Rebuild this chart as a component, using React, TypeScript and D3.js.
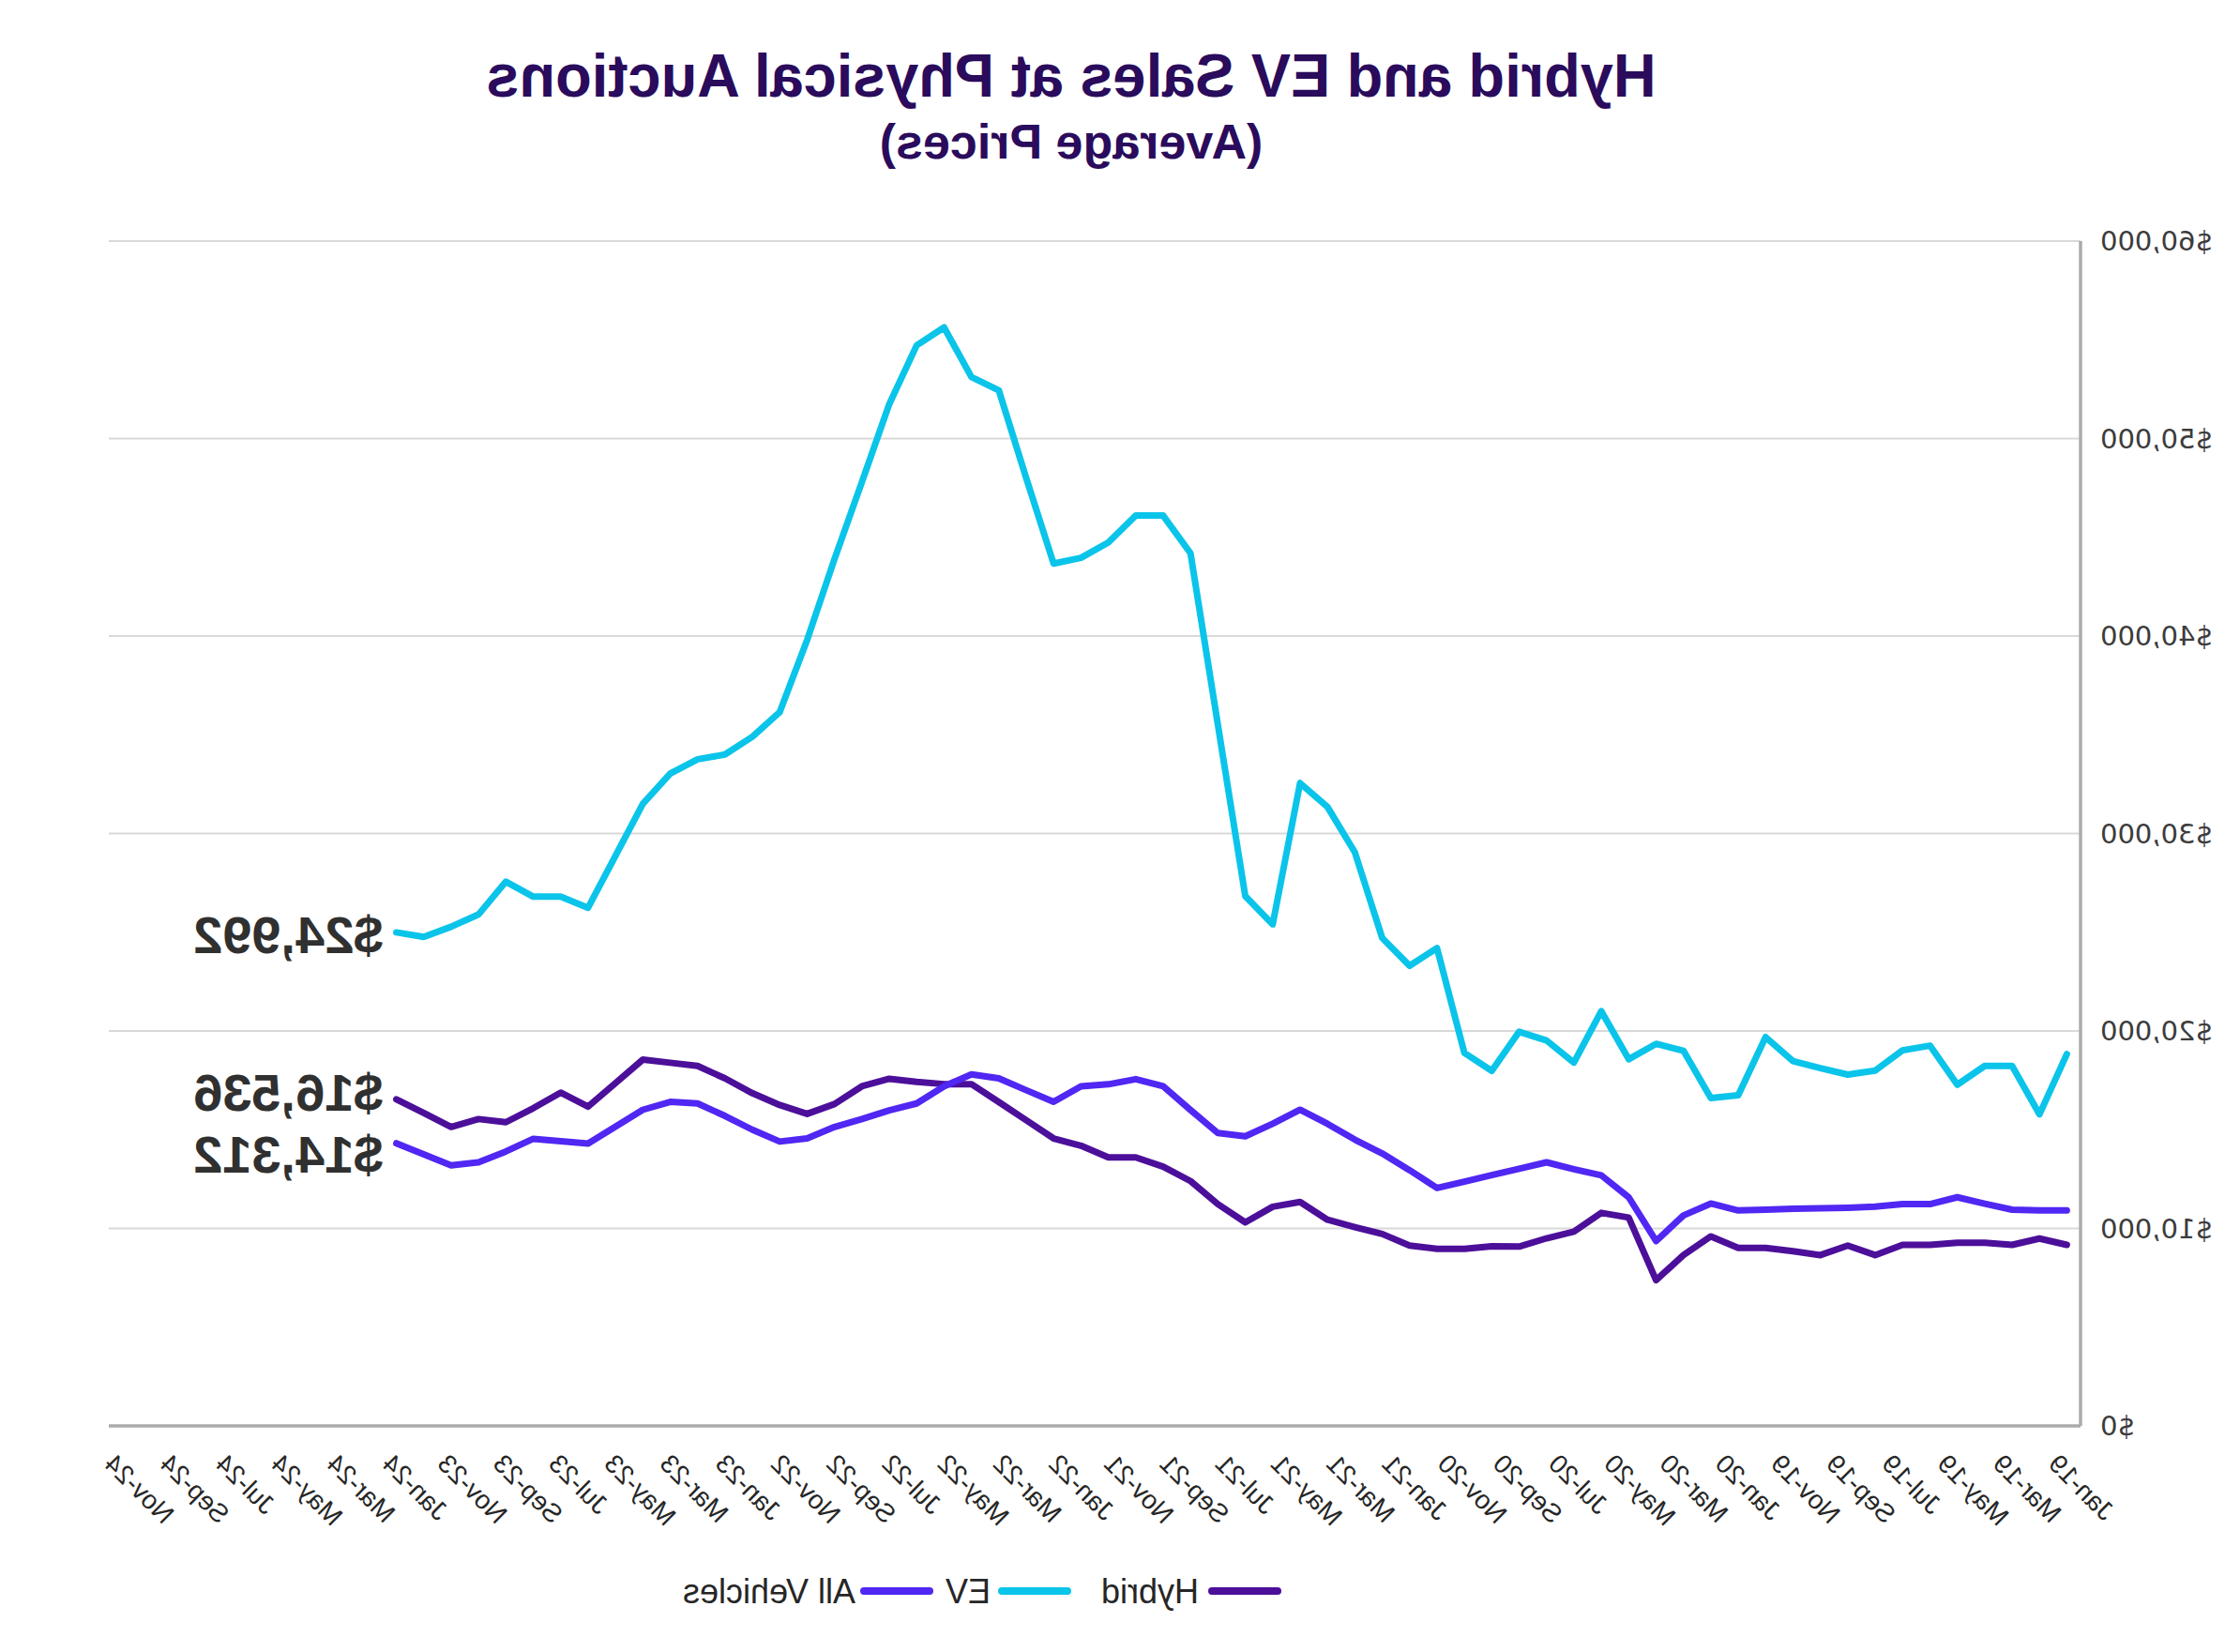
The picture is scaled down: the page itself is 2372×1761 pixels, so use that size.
import React from 'react';
import * as d3 from 'd3';

// Monthly category grid used by the plotted series
const MONTHS = [
  'Jan-19','Feb-19','Mar-19','Apr-19','May-19','Jun-19','Jul-19','Aug-19','Sep-19','Oct-19','Nov-19','Dec-19',
  'Jan-20','Feb-20','Mar-20','Apr-20','May-20','Jun-20','Jul-20','Aug-20','Sep-20','Oct-20','Nov-20','Dec-20',
  'Jan-21','Feb-21','Mar-21','Apr-21','May-21','Jun-21','Jul-21','Aug-21','Sep-21','Oct-21','Nov-21','Dec-21',
  'Jan-22','Feb-22','Mar-22','Apr-22','May-22','Jun-22','Jul-22','Aug-22','Sep-22','Oct-22','Nov-22','Dec-22',
  'Jan-23','Feb-23','Mar-23','Apr-23','May-23','Jun-23','Jul-23','Aug-23','Sep-23','Oct-23','Nov-23','Dec-23',
  'Jan-24','Feb-24','Mar-24','Apr-24','May-24','Jun-24','Jul-24','Aug-24','Sep-24','Oct-24','Nov-24','Dec-24'
];

// Category axis shown under the plot (Jan-19 .. Nov-24)
const AXIS_MONTHS = MONTHS.slice(0, 71);

const TICK_LABELS = [
  'Jan-19','Mar-19','May-19','Jul-19','Sep-19','Nov-19',
  'Jan-20','Mar-20','May-20','Jul-20','Sep-20','Nov-20',
  'Jan-21','Mar-21','May-21','Jul-21','Sep-21','Nov-21',
  'Jan-22','Mar-22','May-22','Jul-22','Sep-22','Nov-22',
  'Jan-23','Mar-23','May-23','Jul-23','Sep-23','Nov-23',
  'Jan-24','Mar-24','May-24','Jul-24','Sep-24','Nov-24'
];

const Y_TICKS = [0, 10000, 20000, 30000, 40000, 50000, 60000];

// Average prices (USD), monthly
const EV = [
  18830, 15780, 18230, 18230, 17280, 19260, 19020, 17990, 17790, 18120, 18470, 19690,
  16750, 16600, 19000, 19350, 18570, 21000, 18400, 19520, 19960, 17980, 18890, 24200,
  23300, 24710, 29050, 31350, 32550, 25400, 26830, 35500, 44190, 46100, 46100, 44740,
  43960, 43670, 48000, 52440, 53120, 55630, 54720, 51750, 47800, 43900, 39800, 36150,
  34900, 34000, 33760, 33030, 31500, 28860, 26240, 26800, 26800, 27560, 25900, 25280,
  24760, 24992
];

const HYBRID = [
  9170, 9490, 9170, 9280, 9280, 9170, 9170, 8650, 9130, 8650, 8850, 9010,
  9010, 9600, 8650, 7380, 10550, 10790, 9840, 9500, 9080, 9100, 8970, 8970,
  9130, 9720, 10070, 10440, 11340, 11100, 10310, 11230, 12400, 13130, 13600, 13600,
  14190, 14560, 15480, 16400, 17310, 17310, 17420, 17580, 17200, 16300, 15800, 16250,
  16850, 17600, 18230, 18390, 18550, 17360, 16170, 16880, 16090, 15380, 15540, 15140,
  15850, 16536
];

const ALL_VEHICLES = [
  10910, 10910, 10950, 11250, 11580, 11230, 11230, 11100, 11050, 11020, 11000, 10950,
  10910, 11260, 10660, 9360, 11580, 12690, 13000, 13350, 13020, 12700, 12370, 12050,
  12950, 13800, 14500, 15300, 16010, 15300, 14670, 14830, 16000, 17200, 17560, 17300,
  17200, 16410, 17000, 17600, 17800, 17200, 16330, 15980, 15540, 15140, 14560, 14400,
  15000, 15700, 16330, 16410, 16010, 15150, 14300, 14420, 14540, 13900, 13350, 13190,
  13750, 14312
];

const SERIES_NAMES = ['Hybrid', 'EV', 'All Vehicles'];
const SERIES_COLORS = ['#4C0F9A', '#0BC4EA', '#5027F3'];
const END_LABELS = ['$16,536', '$24,992', '$14,312'];

const W = 2372;
const H = 1761;
const PLOT = { left: 154, right: 2256, top: 257, bottom: 1520 };

export default function App() {
  const x = d3.scalePoint<string>().domain(MONTHS).range([PLOT.left, PLOT.right]).padding(0.5);
  const xAxis = d3.scalePoint<string>().domain(AXIS_MONTHS).range([PLOT.left, PLOT.right]).padding(0.5);
  const y = d3.scaleLinear().domain([0, 60000]).range([PLOT.bottom, PLOT.top]);
  const seriesValues = [HYBRID, EV, ALL_VEHICLES];
  const lineGen = d3
    .line<number>()
    .x((_, i) => x(MONTHS[i]) as number)
    .y((d) => y(d));

  const lastIdx = EV.length - 1;
  const lastX = x(MONTHS[lastIdx]) as number;
  const labelDy = [-8, 2, 11];

  const legendItems = [
    { lineX: 1010, textX: 1094 },
    { lineX: 1234, textX: 1316 },
    { lineX: 1381, textX: 1460 },
  ];

  const sans = "'Liberation Sans', Arial, Helvetica, sans-serif";

  return (
    <svg
      width={W}
      height={H}
      viewBox={`0 0 ${W} ${H}`}
      style={{ position: 'absolute', left: 0, top: 0, background: '#ffffff' }}
    >
      <rect x={0} y={0} width={W} height={H} fill="#ffffff" />
      <g transform={`translate(${W},0) scale(-1,1)`}>
        {/* Title */}
        <text
          x={1230}
          y={103}
          textAnchor="middle"
          fontFamily={sans}
          fontWeight="bold"
          fontSize={65}
          fill="#2A0B5C"
          textLength={1247}
          lengthAdjust="spacingAndGlyphs"
        >
          Hybrid and EV Sales at Physical Auctions
        </text>
        <text
          x={1230}
          y={169}
          textAnchor="middle"
          fontFamily={sans}
          fontWeight="bold"
          fontSize={52}
          fill="#2A0B5C"
        >
          (Average Prices)
        </text>

        {/* Gridlines */}
        {Y_TICKS.filter((t) => t > 0).map((t) => (
          <line
            key={`g${t}`}
            x1={PLOT.left}
            x2={PLOT.right}
            y1={y(t)}
            y2={y(t)}
            stroke="#D9D9D9"
            strokeWidth={2}
          />
        ))}

        {/* Axes */}
        <line x1={PLOT.left} x2={PLOT.right} y1={PLOT.bottom} y2={PLOT.bottom} stroke="#ABABAB" strokeWidth={3.5} />
        <line x1={PLOT.left} x2={PLOT.left} y1={PLOT.top} y2={PLOT.bottom} stroke="#ABABAB" strokeWidth={3.5} />

        {/* Y tick labels */}
        {Y_TICKS.map((t) => (
          <text
            key={`y${t}`}
            x={PLOT.left - 21}
            y={y(t)}
            dy="0.36em"
            textAnchor="end"
            fontFamily="'DejaVu Sans', sans-serif"
            fontSize={29}
            fill="#3C3C3C"
          >
            {d3.format('$,')(t)}
          </text>
        ))}

        {/* X tick labels */}
        {TICK_LABELS.map((m) => {
          const px = (xAxis(m) as number) + 21;
          const py = 1562;
          return (
            <text
              key={m}
              x={px}
              y={py}
              textAnchor="end"
              transform={`rotate(-45 ${px} ${py})`}
              fontFamily={sans}
              fontSize={28}
              fill="#262626"
            >
              {m}
            </text>
          );
        })}

        {/* Lines */}
        {seriesValues.map((vals, si) => (
          <path
            key={SERIES_NAMES[si]}
            d={lineGen(vals) as string}
            fill="none"
            stroke={SERIES_COLORS[si]}
            strokeWidth={7}
            strokeLinejoin="round"
            strokeLinecap="round"
          />
        ))}

        {/* End labels */}
        {seriesValues.map((vals, si) => (
          <text
            key={`lab${si}`}
            x={lastX + 14}
            y={y(vals[lastIdx]) + labelDy[si]}
            dy="0.36em"
            textAnchor="start"
            fontFamily={sans}
            fontWeight="bold"
            fontSize={56}
            fill="#303030"
          >
            {END_LABELS[si]}
          </text>
        ))}

        {/* Legend */}
        {SERIES_NAMES.map((name, si) => (
          <g key={`leg${name}`}>
            <line
              x1={legendItems[si].lineX}
              x2={legendItems[si].lineX + 70}
              y1={1696}
              y2={1696}
              stroke={SERIES_COLORS[si]}
              strokeWidth={8}
              strokeLinecap="round"
            />
            <text
              x={legendItems[si].textX}
              y={1696}
              dy="0.36em"
              fontFamily={sans}
              fontSize={36}
              fill="#262626"
            >
              {name}
            </text>
          </g>
        ))}
      </g>
    </svg>
  );
}
